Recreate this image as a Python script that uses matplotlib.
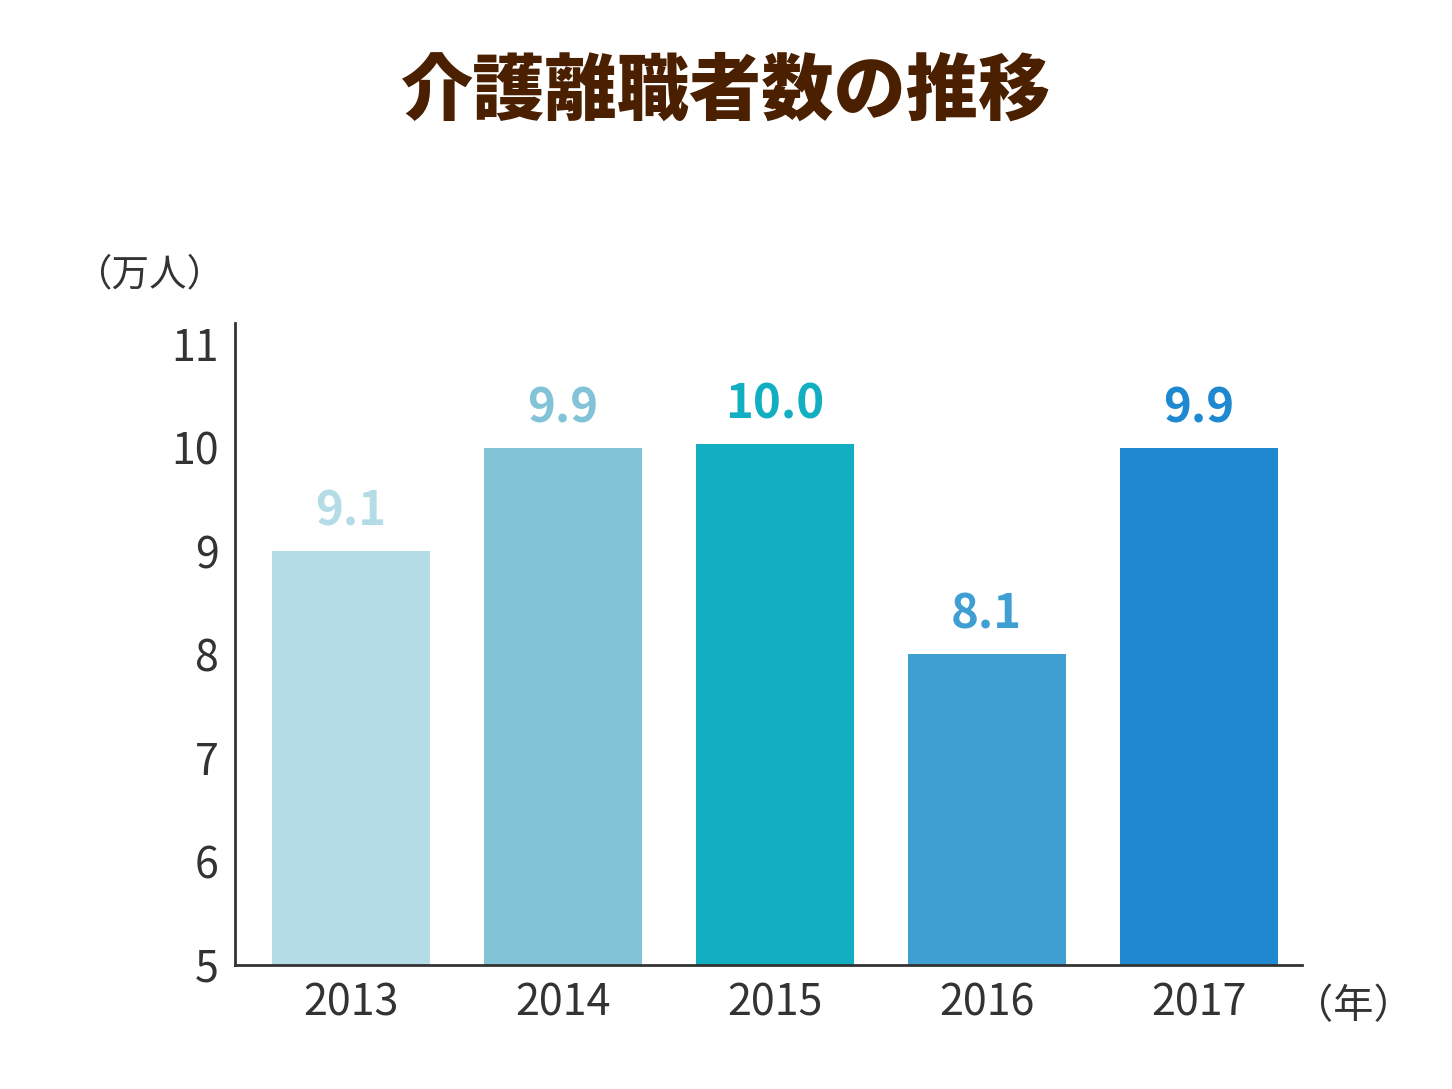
import matplotlib.pyplot as plt

years = ["2013", "2014", "2015", "2016", "2017"]
heights = [9.0, 10.0, 10.03, 8.0, 10.0]
labels = ["9.1", "9.9", "10.0", "8.1", "9.9"]
colors = ["#b3dce6", "#82c3d7", "#12aec2", "#3f9fd3", "#1e88d0"]
yticks = [5, 6, 7, 8, 9, 10, 11]

plt.rcParams["font.family"] = "Noto Sans CJK JP"
fig = plt.figure(figsize=(14.52, 10.89), dpi=100)
ax = fig.add_axes([0.162, 0.114, 0.735, 0.589])

x = range(len(years))
ax.bar(x, [h - 5 for h in heights], bottom=5, width=0.745, color=colors)
for i, (h, lab, c) in enumerate(zip(heights, labels, colors)):
    ax.text(i, h + 0.15, lab, ha="center", va="bottom", fontsize=34,
            fontweight="bold", color=c)

ax.set_xlim(-0.547, 4.49)
ax.set_ylim(5, 11.2)
ax.set_yticks(yticks)
ax.set_yticklabels([str(t) for t in yticks], fontsize=31, color="#333333")
ax.set_xticks(list(x))
ax.set_xticklabels(years, fontsize=31, color="#333333")
ax.tick_params(length=0, pad=12)
for s in ["top", "right"]:
    ax.spines[s].set_visible(False)
for s in ["left", "bottom"]:
    ax.spines[s].set_color("#333333")
    ax.spines[s].set_linewidth(2)

fig.text(0.155, 0.748, "（万人）", fontsize=27, color="#333333", ha="right", va="center")
fig.text(0.932, 0.076, "（年）", fontsize=29, color="#333333", ha="center", va="center")
fig.text(0.5, 0.915, "介護離職者数の推移", fontsize=52, fontweight="black",
         color="#4a2000", ha="center", va="center")

fig.savefig("out.png")
